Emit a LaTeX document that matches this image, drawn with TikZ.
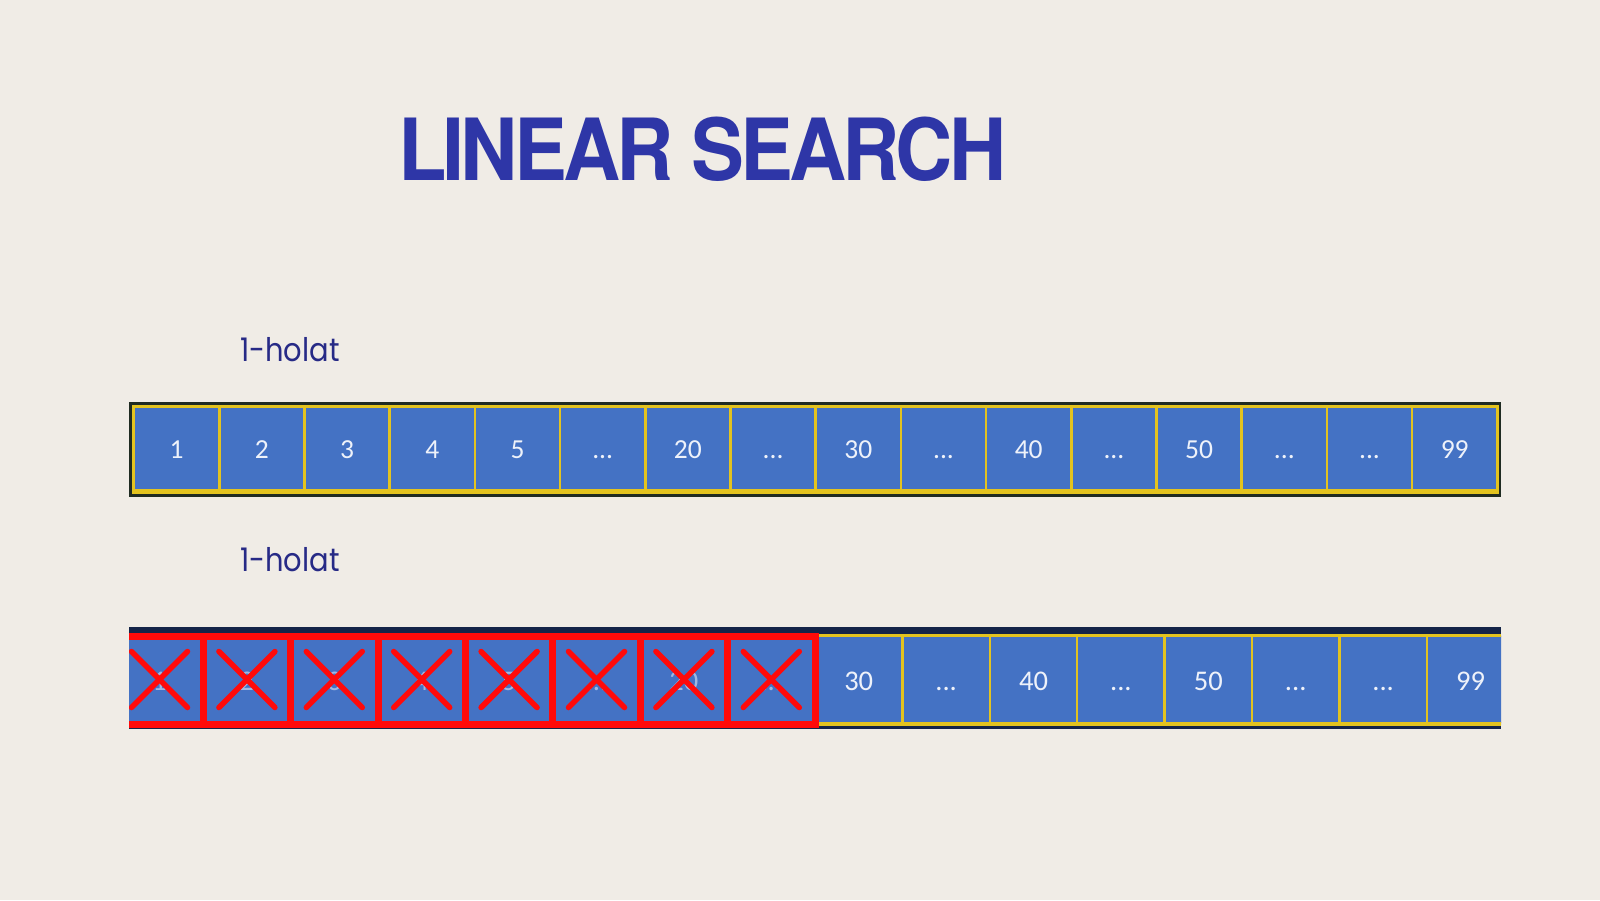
\documentclass[tikz,border=0pt]{standalone}
\usepackage{fontspec}
\newfontfamily\titlefont{TeX Gyre Heros}[LetterSpace=-5]
\newfontfamily\labfont{Poppins}
\newfontfamily\cellfont{Carlito}
\definecolor{bgc}{HTML}{F0ECE6}
\definecolor{titleblue}{HTML}{2E36A7}
\definecolor{labblue}{HTML}{272A86}
\definecolor{cellblue}{HTML}{4472C4}
\definecolor{gold}{HTML}{E3C31F}
\definecolor{darkA}{HTML}{1F2B22}
\definecolor{navyB}{HTML}{142448}
\definecolor{crossred}{HTML}{FF0A0A}
\definecolor{celltext}{HTML}{EEF2FA}
\newcommand\ddd{...}
\newcommand\holat{\scalebox{0.89}[1]{1-holat}}
\begin{document}
\begin{tikzpicture}[x=1pt,y=-1pt,
  lab/.style={anchor=base west,inner sep=0pt,text=labblue,font=\labfont\fontsize{32.5}{36}\selectfont},
  topcell/.style={draw=gold,line width=2.5pt,fill=cellblue,minimum width=85.2pt,minimum height=83.5pt,
    inner sep=0pt,text height=19.6pt,text depth=0pt,text=celltext,font=\cellfont\fontsize{27.5}{30}\selectfont},
  botcell/.style={draw=gold,line width=2.5pt,fill=cellblue,minimum width=87.4pt,minimum height=87.5pt,
    inner sep=0pt,text height=21pt,text depth=0pt,text=celltext,font=\cellfont\fontsize{28.5}{31}\selectfont},
  hiddencell/.style={botcell,text opacity=0.55},
  redbox/.style={draw=crossred,line width=7pt},
  xline/.style={draw=crossred,line width=5.5pt,line cap=round}]
\useasboundingbox (0,0) rectangle (1600,900);
\fill[bgc] (0,0) rectangle (1600,900);
% title
\node[anchor=base west,inner sep=0pt,text=titleblue] (title) at (398,180)
  {\resizebox{608pt}{63.5pt}{\titlefont\bfseries LINEAR SEARCH}};
% labels
\node[lab] (h1) at (240,361.7) {\holat};
\node[lab] (h2) at (240,571.7) {\holat};
% top bar
\fill[darkA] (129,402) rectangle (1501,497);
\fill[gold] (131.5,405) rectangle (1498.5,493.5);
\foreach \t [count=\i from 0] in {1,2,3,4,5,\ddd,20,\ddd,30,\ddd,40,\ddd,50,\ddd,\ddd,99}
  \node[topcell] (t\i) at ({176.7+85.2*\i},448.5) {\t};
% bottom bar
\begin{scope}
\clip (129,620) rectangle (1501,735);
\fill[navyB] (129,627) rectangle (1501,729);
\fill[gold] (129,633.5) rectangle (1501,726);
\foreach \t [count=\i from 0] in {1,2,3,4,5,\ddd,20,\ddd}
  \node[hiddencell] (b\i) at ({159.5+87.4*\i},679.5) {\t};
\foreach \t [count=\i from 8] in {30,\ddd,40,\ddd,50,\ddd,\ddd,99}
  \node[botcell] (b\i) at ({159.5+87.4*\i},679.5) {\t};
\foreach \i in {0,...,7}{
  \draw[redbox] ({115.8+87.4*\i},636.5) rectangle ({203.2+87.4*\i},724.5);
  \draw[xline] ([shift={(-28,-28)}]b\i.center) -- ([shift={(28,28)}]b\i.center);
  \draw[xline] ([shift={(-28,28)}]b\i.center) -- ([shift={(28,-28)}]b\i.center);
}
\end{scope}
\end{tikzpicture}
\end{document}
